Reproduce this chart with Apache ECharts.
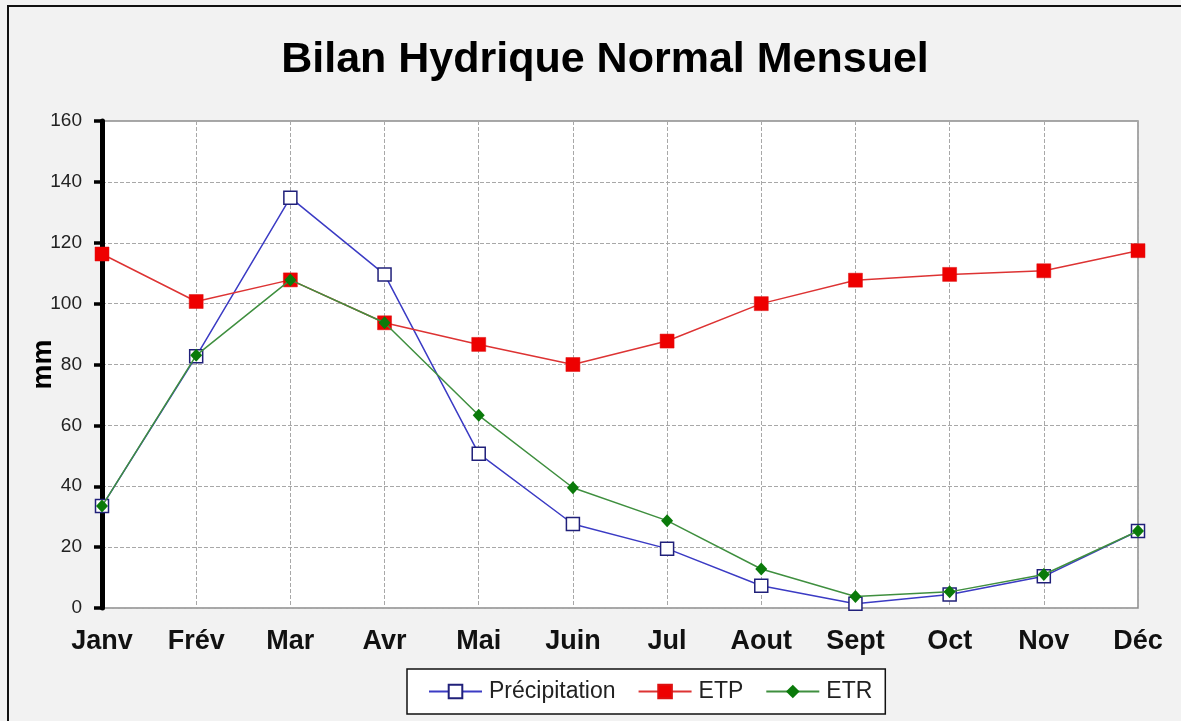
<!DOCTYPE html>
<html>
<head>
<meta charset="utf-8">
<script src="https://cdn.jsdelivr.net/npm/echarts@6/dist/echarts.min.js"></script>
<style>
html,body{margin:0;padding:0;background:#f2f2f2;}
#c{width:1181px;height:721px;position:absolute;left:0;top:0;}
#frame{position:absolute;left:7px;top:5px;width:1200px;height:740px;border:2px solid #111;pointer-events:none;}
</style>
</head>
<body>
<div id="c"></div>
<div id="frame"></div>
<script>
const months = ['Janv','Frév','Mar','Avr','Mai','Juin','Jul','Aout','Sept','Oct','Nov','Déc'];
const precipitation = [33.5, 82.7, 134.8, 109.6, 50.7, 27.6, 19.5, 7.3, 1.4, 4.4, 10.4, 25.3];
const etp = [116.3, 100.7, 107.8, 93.7, 86.6, 80.0, 87.7, 100.0, 107.7, 109.6, 110.8, 117.4];
const etr = [33.5, 83.0, 107.8, 93.7, 63.3, 39.5, 28.7, 12.8, 3.8, 5.3, 11.0, 25.3];
const yTicks = {min: 0, max: 160, interval: 20};

const chart = echarts.init(document.getElementById('c'));
const font = "'Liberation Sans', Arial, sans-serif";
chart.setOption({
  backgroundColor: '#f2f2f2',
  animation: false,
  title: {
    text: 'Bilan Hydrique Normal Mensuel',
    left: 600, top: 34, textAlign: 'center',
    textStyle: {fontFamily: font, fontSize: 43, fontWeight: 'bold', color: '#000'}
  },
  legend: {
    left: 407, top: 669,
    padding: [11, 13, 11, 21],
    itemGap: 22,
    itemWidth: 53, itemHeight: 17,
    backgroundColor: '#fff',
    borderColor: '#111', borderWidth: 1.5,
    textStyle: {fontFamily: font, fontSize: 23, color: '#222', padding: [0,0,0,2]},
    data: ['Précipitation', 'ETP', 'ETR']
  },
  grid: {
    left: 102, right: 43, top: 121, bottom: 113,
    show: true, backgroundColor: '#fff', borderColor: '#8c8c8c', borderWidth: 1.5
  },
  xAxis: {
    type: 'category', data: months, boundaryGap: false,
    axisLine: {show: false}, axisTick: {show: false},
    axisLabel: {fontFamily: font, fontSize: 27, fontWeight: 'bold', color: '#111', margin: 20},
    splitLine: {show: true, lineStyle: {color: '#a8a8a8', type: [4, 2], width: 1}}
  },
  yAxis: {
    type: 'value', min: yTicks.min, max: yTicks.max, interval: yTicks.interval,
    name: 'mm', nameLocation: 'middle', nameGap: 45, nameRotate: 90,
    nameMoveOverlap: false,
    nameTextStyle: {fontFamily: font, fontSize: 28, fontWeight: 'bold', color: '#000'},
    axisLine: {show: true, lineStyle: {color: '#000', width: 5}},
    axisTick: {show: true, length: 8, lineStyle: {color: '#000', width: 3.5}},
    axisLabel: {fontFamily: font, fontSize: 19, color: '#222', margin: 20},
    splitLine: {show: true, lineStyle: {color: '#a8a8a8', type: [4, 2], width: 1}}
  },
  series: [
    {
      name: 'Précipitation', type: 'line', data: precipitation,
      symbol: 'rect', symbolSize: 13,
      lineStyle: {color: '#3b3bc4', width: 1.5},
      itemStyle: {color: '#fff', borderColor: '#20207a', borderWidth: 1.5},
      z: 2
    },
    {
      name: 'ETP', type: 'line', data: etp,
      symbol: 'rect', symbolSize: 14,
      lineStyle: {color: '#dd3333', width: 1.5},
      itemStyle: {color: '#ee0000', borderColor: '#dd1111', borderWidth: 0.5},
      z: 3
    },
    {
      name: 'ETR', type: 'line', data: etr,
      symbol: 'diamond', symbolSize: [12, 13],
      lineStyle: {color: '#3f8f3f', width: 1.5},
      itemStyle: {color: '#0a7a0a'},
      z: 4
    }
  ]
});
</script>
</body>
</html>
